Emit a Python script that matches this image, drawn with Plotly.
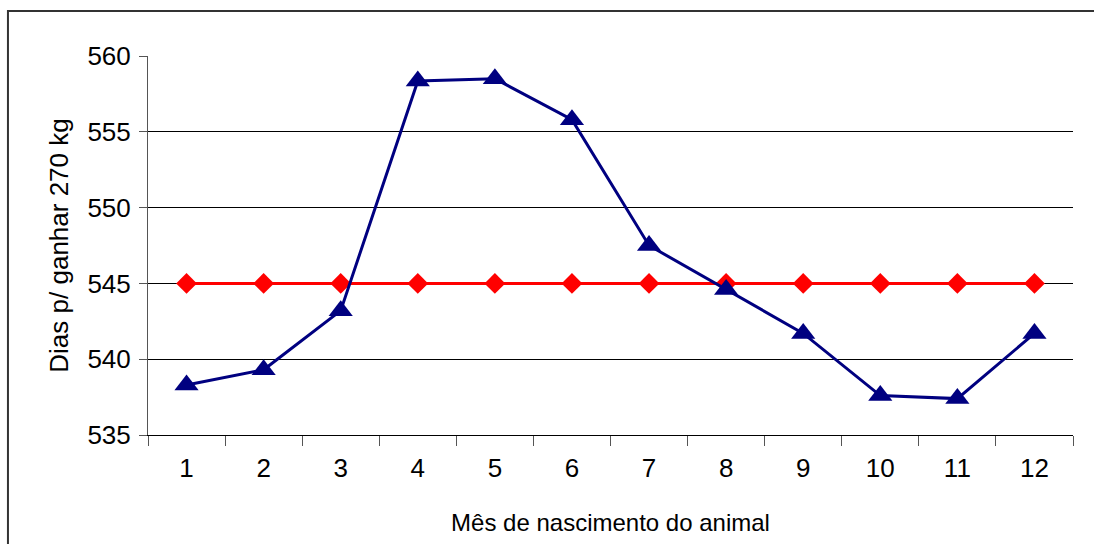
import plotly.graph_objects as go

months = ["1", "2", "3", "4", "5", "6", "7", "8", "9", "10", "11", "12"]
dias = [538.3, 539.3, 543.2, 558.35, 558.5, 555.8, 547.5, 544.6, 541.7, 537.6, 537.4, 541.7]
media = [545] * 12

FONT = "Liberation Sans, Arial, sans-serif"

fig = go.Figure()
fig.add_trace(go.Scatter(x=months, y=media, mode="lines+markers",
                         line=dict(color="#FF0000", width=3),
                         marker=dict(symbol="diamond", size=16, color="#FF0000"),
                         showlegend=False))
fig.add_trace(go.Scatter(x=months, y=dias, mode="lines+markers",
                         line=dict(color="#000080", width=3),
                         marker=dict(symbol="triangle-up", size=21, color="#000080"),
                         showlegend=False))

fig.update_layout(
    width=1094, height=544,
    margin=dict(l=148, r=21, t=56, b=109),
    paper_bgcolor="white", plot_bgcolor="white",
    font=dict(family=FONT, color="black", size=26),
    shapes=[dict(type="rect", xref="paper", yref="paper",
                 x0=-0.1514, x1=1.05, y0=-0.3, y1=1.1187,
                 line=dict(color="#333333", width=2), layer="below")],
)
fig.update_xaxes(type="category", range=[-0.5, 11.5], tickson="boundaries",
                 ticks="outside", ticklen=10, tickcolor="#555555",
                 showline=True, linecolor="black", linewidth=1,
                 showgrid=False, ticklabelstandoff=10,
                 tickfont=dict(size=26),
                 title=dict(text="Mês de nascimento do animal", font=dict(size=24), standoff=31))
fig.update_yaxes(range=[535, 560], dtick=5, tick0=535,
                 ticks="outside", ticklen=8, tickcolor="#555555",
                 showline=True, linecolor="#555555", linewidth=1,
                 showgrid=True, gridcolor="black", gridwidth=1,
                 zeroline=False, tickfont=dict(size=26), ticklabelstandoff=3,
                 title=dict(text="Dias p/ ganhar 270 kg", font=dict(size=26), standoff=11))

fig.write_html("out.html", config={"displayModeBar": False},
               post_script="document.body.style.margin='0';")
